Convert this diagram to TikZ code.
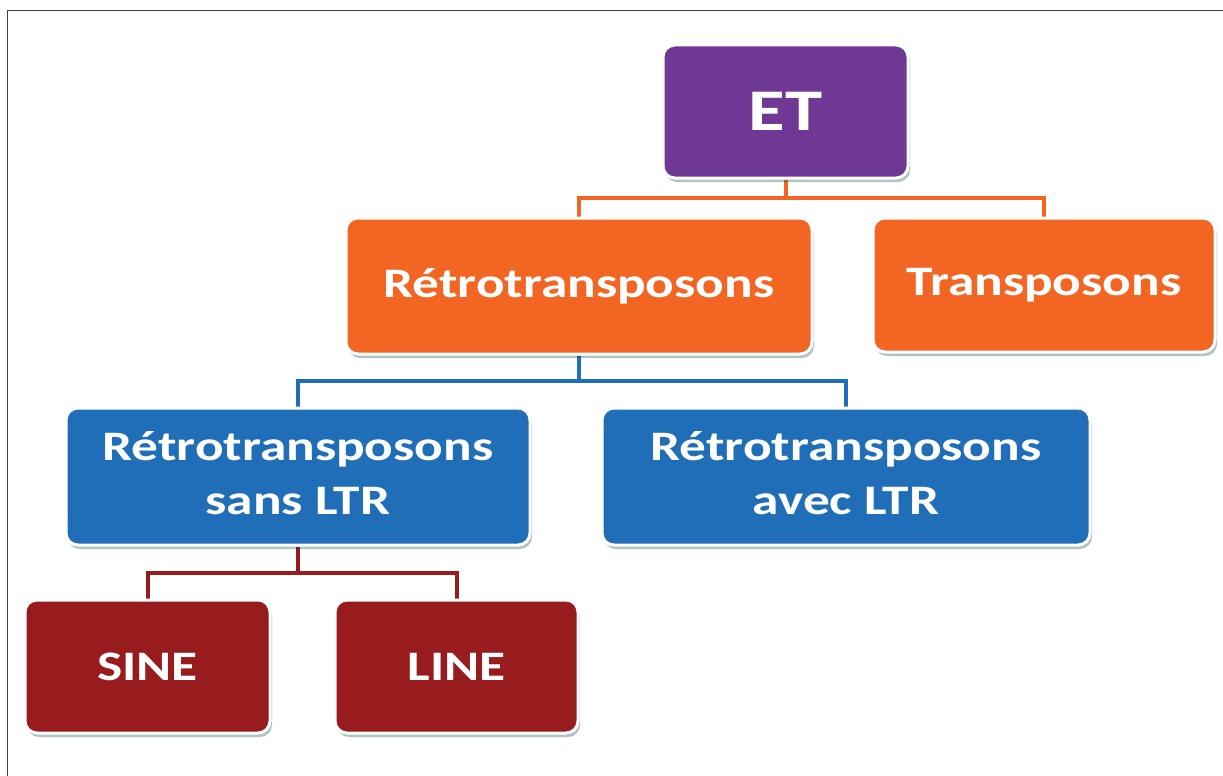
\documentclass[tikz,border=0pt]{standalone}
\usepackage{fontspec}
\setmainfont{Carlito}[FakeStretch=1.27]
\usetikzlibrary{calc,shadows}

\definecolor{etpurple}{HTML}{6F3894}
\definecolor{retorange}{HTML}{F26522}
\definecolor{ltrblue}{HTML}{1F6EB7}
\definecolor{linered}{HTML}{981B1E}

\pgfdeclarelayer{paper}
\pgfdeclarelayer{wires}
\pgfsetlayers{paper,wires,main}

\tikzset{
  boxtext/.style={text=white, font=\bfseries\fontsize{42}{54}\selectfont, align=center},
  box/.style={rounded corners=12pt, draw=white, line width=3pt,
    boxtext, inner sep=0pt,
    drop shadow={shadow xshift=2pt, shadow yshift=-4pt, opacity=0.3, fill=black!55!teal}},
  bigbox/.style={box, font=\bfseries\fontsize{59}{64}\selectfont},
  link/.style={line width=4pt}
}

\begin{document}
\begin{tikzpicture}[x=1pt, y=-1pt]
  \useasboundingbox (0,0) rectangle (1223,776);
  \begin{pgfonlayer}{paper}
    \fill[white] (0,0) rectangle (1223,776);
    % frame along the top and left edges
    \draw[black!75, line width=1.2pt] (1223,10.5) -- (7.5,10.5) -- (7.5,776);
  \end{pgfonlayer}

  % boxes
  \node[bigbox, fill=etpurple, minimum width=245pt, minimum height=133pt] (et) at (785.5,111.5) {ET};
  \node[box, fill=retorange, minimum width=466pt, minimum height=136pt] (retro) at (579,286) {Rétrotransposons};
  \node[box, fill=retorange, minimum width=342pt, minimum height=134pt] (trans) at (1044,285) {Transposons};
  \node[box, fill=ltrblue, minimum width=464pt, minimum height=137pt,
        label={[boxtext, yshift=3.5pt]center:Rétrotransposons\\sans LTR}] (sans) at (298,476.5) {};
  \node[box, fill=ltrblue, minimum width=488pt, minimum height=137pt,
        label={[boxtext, yshift=3.5pt]center:Rétrotransposons\\avec LTR}] (avec) at (846,476.5) {};
  \node[box, fill=linered, minimum width=245pt, minimum height=133pt] (sine) at (147.5,666.5) {SINE};
  \node[box, fill=linered, minimum width=243pt, minimum height=133pt] (line) at (456.5,666.5) {LINE};

  % connectors
  \begin{pgfonlayer}{wires}
    \coordinate (m1) at ($(et.south)!0.5!(et.south |- retro.north)$);
    \draw[link, retorange] (et.south) -- (m1);
    \draw[link, retorange] (m1) -| (retro.north);
    \draw[link, retorange] (m1) -| (trans.north);

    \coordinate (m2) at ($(retro.south)!0.5!(retro.south |- sans.north)$);
    \draw[link, ltrblue] (retro.south) -- (m2);
    \draw[link, ltrblue] (m2) -| (sans.north);
    \draw[link, ltrblue] (m2) -| (avec.north);

    \coordinate (m3) at ($(sans.south)!0.5!(sans.south |- sine.north)$);
    \draw[link, linered] (sans.south) -- (m3);
    \draw[link, linered] (m3) -| (sine.north);
    \draw[link, linered] (m3) -| (line.north);
  \end{pgfonlayer}
\end{tikzpicture}
\end{document}
